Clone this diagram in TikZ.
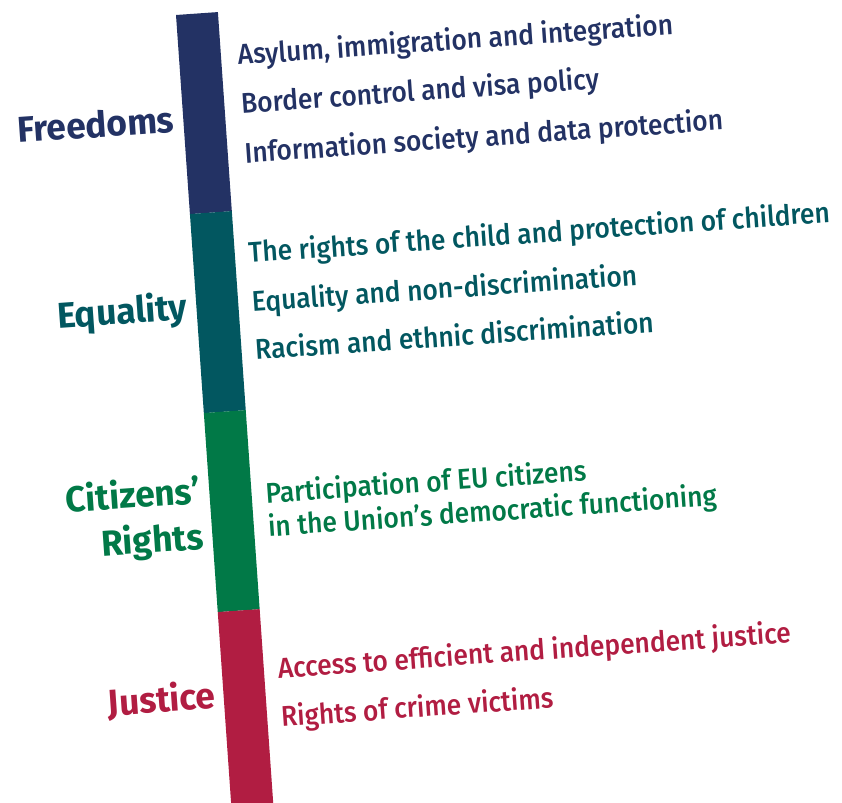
\documentclass[tikz,border=0pt]{standalone}
\usepackage{fontspec}
\setmainfont{Fira Sans}
\newfontfamily\itemfont{Fira Sans Medium}[FakeStretch=0.925]
\newfontfamily\labfont{Fira Sans}[FakeStretch=0.98]
\definecolor{cfree}{RGB}{35,50,100}
\definecolor{cequal}{RGB}{2,87,96}
\definecolor{ccit}{RGB}{1,121,71}
\definecolor{cjust}{RGB}{177,29,66}
\begin{document}
\begin{tikzpicture}[x=1pt,y=-1pt,
  seg/.style={rectangle,draw=none,inner sep=0pt,minimum width=42pt,minimum height=199.6pt},
  item/.style={anchor=base west,inner sep=0pt,font=\itemfont\fontsize{28.5}{30}\selectfont},
  lab/.style={anchor=base east,inner sep=0pt,font=\labfont\fontsize{36}{40}\selectfont\bfseries}]
\useasboundingbox (0,0) rectangle (842,802);
\clip (0,0) rectangle (842,802);
\begin{scope}[rotate around={4:(176,15)}, transform shape]
  % bar segments
  \node[seg,fill=cfree]  (sfree)  at (197,114.8) {};
  \node[seg,fill=cequal] (sequal) at (197,314.3) {};
  \node[seg,fill=ccit]   (scit)   at (197,513.8) {};
  \node[seg,fill=cjust]  (sjust)  at (197,713.3) {};
  % labels
  \node[lab,text=cfree]  (lfree)  at (167,131.5) {Freedoms};
  \node[lab,text=cequal] (lequal) at (167,319.4) {Equality};
  \node[lab,text=ccit]   (lcit1)  at (167,503.8) {Citizens’};
  \node[lab,text=ccit]   (lcit2)  at (167,549.6) {Rights};
  \node[lab,text=cjust]  (ljust)  at (168,709.5) {Justice};
  % items
  \node[item,text=cfree] (f1) at (234.6,69.2)  {Asylum, immigration and integration};
  \node[item,text=cfree] (f2) at (234.6,117.6) {Border control and visa policy};
  \node[item,text=cfree] (f3) at (234.6,167.7) {Information society and data protection};
  \node[item,text=cequal] (e1) at (231.5,267.4) {The rights of the child and protection of children};
  \node[item,text=cequal] (e2) at (231.5,316.6) {Equality and non-discrimination};
  \node[item,text=cequal] (e3) at (231.5,364.7) {Racism and ethnic discrimination};
  \node[item,text=ccit] (c1) at (232,508.4) {Participation of EU citizens};
  \node[item,text=ccit] (c2) at (232,541.9) {in the Union’s democratic functioning};
  \node[item,text=cjust] (j1) at (231.8,683.8) {Access to efficient and independent justice};
  \node[item,text=cjust] (j2) at (231.8,732.4) {Rights of crime victims};
\end{scope}
\end{tikzpicture}
\end{document}
